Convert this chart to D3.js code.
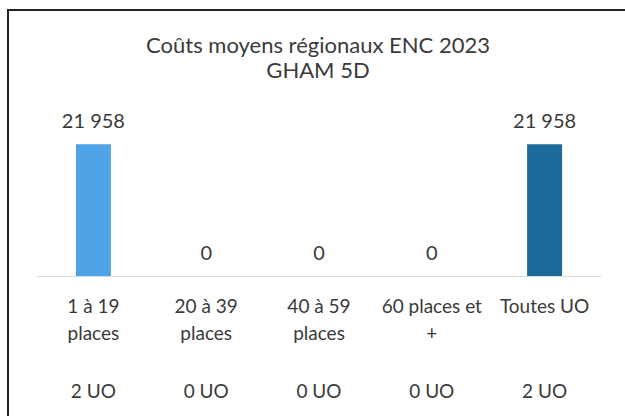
<!DOCTYPE html>
<html><head><meta charset="utf-8">
<script src="https://cdn.jsdelivr.net/npm/d3@7"></script>
<style>body{margin:0;background:#fff}svg{display:block}text{font-family:Lato,"Open Sans",sans-serif;fill:#3a3a3a}</style>
</head><body>
<script>
const categories = ["1 à 19 places","20 à 39 places","40 à 59 places","60 places et +","Toutes UO"];
const catLines = [["1 à 19","places"],["20 à 39","places"],["40 à 59","places"],["60 places et","+"],["Toutes UO"]];
const values = [21958, 0, 0, 0, 21958];
const valueLabels = ["21 958","0","0","0","21 958"];
const uoLabels = ["2 UO","0  UO","0 UO","0 UO","2 UO"];
const colors = ["#4ea4e6","#4ea4e6","#4ea4e6","#4ea4e6","#1b6a9b"];
const titleLines = ["Coûts moyens régionaux ENC 2023","GHAM 5D"];

const W=625,H=416;
const svg=d3.select("body").append("svg").attr("width",W).attr("height",H);
// frame
svg.append("path").attr("d","M8,416 L8,10 L625,10").attr("fill","none").attr("stroke","#222").attr("stroke-width",2);

const x=d3.scaleBand().domain(categories).range([37,601]).paddingInner(0.69).paddingOuter(0.345);
const y=d3.scaleLinear().domain([0,25000]).range([276,126]);

svg.selectAll("text.title").data(titleLines).enter().append("text")
 .attr("x",318).attr("y",(d,i)=>53+i*25).attr("text-anchor","middle")
 .attr("font-size",22).text(d=>d);

svg.append("line").attr("x1",37).attr("x2",601).attr("y1",276.5).attr("y2",276.5).attr("stroke","#d9d9d9").attr("stroke-width",1);

svg.selectAll("rect.bar").data(values).enter().append("rect")
 .attr("x",(d,i)=>x(categories[i])).attr("width",x.bandwidth())
 .attr("y",d=>y(d)).attr("height",d=>y(0)-y(d)).attr("fill",(d,i)=>colors[i]);

const xc=(i)=>x(categories[i])+x.bandwidth()/2;
svg.selectAll("text.val").data(values).enter().append("text")
 .attr("x",(d,i)=>xc(i)).attr("y",d=>y(d)-16.5)
 .attr("text-anchor","middle").attr("font-size",20).text((d,i)=>valueLabels[i]);

catLines.forEach((lines,i)=>{
  lines.forEach((l,j)=>{
    svg.append("text").attr("x",xc(i)).attr("y",313+j*27).attr("text-anchor","middle").attr("font-size",19).text(l);
  });
});
svg.selectAll("text.uo").data(uoLabels).enter().append("text")
 .attr("x",(d,i)=>xc(i)).attr("y",398).attr("text-anchor","middle").attr("font-size",19).text(d=>d);
</script>
</body></html>
